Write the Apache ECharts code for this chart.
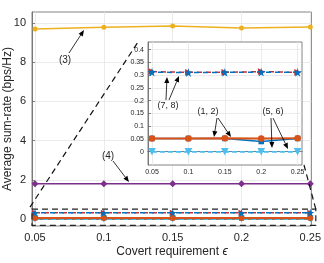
<!DOCTYPE html>
<html><head><meta charset="utf-8">
<script src="https://cdn.jsdelivr.net/npm/echarts@6/dist/echarts.min.js"></script>
<style>html,body{margin:0;padding:0;background:#fff}#c{width:324px;height:263px}</style>
</head><body><div id="c"></div>
<script>
// ---- data ----
const eps = [0.05, 0.1, 0.15, 0.2, 0.25];
const s1 = [0.052, 0.052, 0.053, 0.052, 0.053];   // (1) orange
const s2 = [0.052, 0.052, 0.052, 0.040, 0.052];   // (2) blue
const s3 = [9.69, 9.78, 9.85, 9.74, 9.80];        // (3) yellow
const s4 = [1.79, 1.79, 1.80, 1.79, 1.79];        // (4) purple
const s5 = [0, 0, 0, 0, 0];                       // (5) cyan dashed
const s6 = [0, 0, 0, 0, 0];                       // (6)
const s7 = [0.314, 0.311, 0.311, 0.314, 0.311];   // (7) red dashed
const s8 = [0.312, 0.310, 0.311, 0.312, 0.311];   // (8) blue dashed star
const xTicks = [0.05, 0.1, 0.15, 0.2, 0.25];
const mainYTicks = [0, 2, 4, 6, 8, 10];
const insetYTicks = [0, 0.05, 0.1, 0.15, 0.2, 0.25, 0.3, 0.35, 0.4];

const FONT = '"Liberation Sans", Arial, sans-serif';
const STAR = 'path://M50,0 L61,35 L98,35 L68,57 L79,91 L50,70 L21,91 L32,57 L2,35 L39,35 Z';
const pairs = a => eps.map((x, i) => [x, a[i]]);

function mk(g, data, color, opts) {
  return Object.assign({
    type: 'line', xAxisIndex: g, yAxisIndex: g, data: pairs(data),
    symbol: 'circle', symbolSize: 5, showSymbol: true, animation: false,
    itemStyle: { color: color }, lineStyle: { color: color, width: 1.5 },
    z: g ? 8 : 3
  }, opts || {});
}
function seriesFor(g, sz) {
  const k = sz;
  return [
    mk(g, s3, '#EDB120', { symbolSize: 5 * k }),
    mk(g, s4, '#7E2F8E', { symbol: 'diamond', symbolSize: 7 * k }),
    mk(g, s5, '#4DBEEE', { symbol: 'triangle', symbolRotate: 180, symbolSize: 7 * k, lineStyle: { color: '#4DBEEE', width: 1.5, type: [5, 3] } }),
    mk(g, s6, '#4DBEEE', { symbol: 'none', lineStyle: { color: '#4DBEEE', width: 1.5, type: [5, 3] } }),
    mk(g, s2, '#0072BD', { symbol: 'rect', symbolSize: 5 * k }),
    mk(g, s1, '#D95319', { symbolSize: 6 * k, lineStyle: { color: '#D95319', width: 2 } }),
    mk(g, s7, '#C0303A', { symbol: 'triangle', symbolRotate: -90, symbolSize: 6 * k, lineStyle: { color: '#C0303A', width: 1.5, type: [5, 4] } }),
    mk(g, s8, '#0072BD', { symbol: STAR, symbolSize: 8 * k, lineStyle: { color: '#0072BD', width: 1.5, type: [5, 4], dashOffset: 3 } })
  ];
}

const chart = echarts.init(document.getElementById('c'), null, { renderer: 'canvas' });
const axisCommon = (fs, color) => ({
  axisLine: { show: true, lineStyle: { color: '#666', width: 0.8 } },
  axisTick: { show: true, inside: true, length: 3, lineStyle: { color: '#666', width: 0.8 } },
  axisLabel: { fontFamily: FONT, fontSize: fs, color: '#262626' },
  splitLine: { show: true, lineStyle: { color: '#e6e6e6', width: 0.8 } }
});
function xAx(g, min, max, fs, margin) {
  const a = axisCommon(fs);
  a.axisTick.customValues = xTicks;
  a.axisLabel.customValues = xTicks;
  a.axisLabel.margin = margin;
  a.axisLabel.formatter = v => String(+v.toFixed(2));
  return Object.assign({ type: 'value', gridIndex: g, min: min, max: max, z: g ? 6 : 1 }, a);
}
function yAx(g, min, max, fs, ticks, margin) {
  const a = axisCommon(fs);
  a.axisTick.customValues = ticks;
  a.axisLabel.customValues = ticks;
  a.axisLabel.margin = margin;
  a.axisLabel.formatter = v => String(+v.toFixed(2));
  return Object.assign({ type: 'value', gridIndex: g, min: min, max: max, z: g ? 6 : 1 }, a);
}

chart.setOption({
  animation: false,
  grid: [
    { left: 32, top: 12, width: 281, height: 214, show: true, borderColor: '#666', borderWidth: 0.8, backgroundColor: '#fff', z: 0 },
    { left: 148, top: 42, width: 154, height: 123, show: true, borderColor: '#666', borderWidth: 0.8, backgroundColor: '#fff', z: 5 }
  ],
  xAxis: [xAx(0, 0.0478, 0.2508, 11, 6), xAx(1, 0.0445, 0.256, 7, 4)],
  yAxis: [yAx(0, -0.36, 10.56, 11, mainYTicks, 6), yAx(1, -0.052, 0.43, 7, insetYTicks, 4)],
  series: seriesFor(0, 1).concat(seriesFor(1, 1.1))
});

// ---- annotations ----
const P = (g, x, y) => chart.convertToPixel({ gridIndex: g }, [x, y]);
const stroke = { stroke: '#000', lineWidth: 0.8 };
function arrow(x1, y1, x2, y2) {
  const dx = x2 - x1, dy = y2 - y1, L = Math.hypot(dx, dy), ux = dx / L, uy = dy / L;
  const hl = 6, hw = 2.5;
  const bx = x2 - ux * hl, by = y2 - uy * hl;
  return [
    { type: 'line', shape: { x1, y1, x2: bx, y2: by }, style: stroke, z: 20 },
    { type: 'polygon', shape: { points: [[x2, y2], [bx - uy * hw, by + ux * hw], [bx + uy * hw, by - ux * hw]] }, style: { fill: '#000' }, z: 20 }
  ];
}
function label(t, x, y, fs) {
  return { type: 'text', x, y, style: { text: t, font: fs + 'px ' + FONT, fill: '#262626', align: 'center', verticalAlign: 'middle' }, z: 20 };
}
const tl = P(0, 0.0478, 0.5), br = P(0, 0.254, -0.33);
const rectEl = { type: 'rect', shape: { x: tl[0], y: tl[1], width: br[0] - tl[0], height: br[1] - tl[1] }, style: { fill: null, stroke: '#222', lineWidth: 1.2, lineDash: [6, 4] }, z: 15 };
const dash = { stroke: '#111', lineWidth: 1.2, lineDash: [6, 4] };
const insTL = P(1, 0.0445, 0.43), insBR = P(1, 0.256, -0.052);
const els = [
  rectEl,
  { type: 'line', shape: { x1: tl[0] - 2, y1: tl[1] - 2, x2: insTL[0] - 10, y2: insTL[1] }, style: dash, z: 15 },
  { type: 'line', shape: { x1: br[0], y1: tl[1], x2: insBR[0] + 2, y2: insBR[1] }, style: dash, z: 15 },
  label('(3)', 65, 60, 10), ...arrow(69, 53, 84, 30),
  label('(4)', 108, 156, 10), ...arrow(113, 161, 129, 182),
  label('(7, 8)', 168, 106, 9), ...arrow(166, 100, 167, 77), ...arrow(169, 100, 179, 76),
  label('(1, 2)', 208, 112, 9), ...arrow(217, 118, 214, 137), ...arrow(218, 118, 231, 137),
  label('(5, 6)', 273, 112, 9), ...arrow(271, 118, 272, 148), ...arrow(273, 118, 288, 149),
  { type: 'text', x: 8, y: 119, rotation: Math.PI / 2, style: { text: 'Average sum-rate (bps/Hz)', font: '12px ' + FONT, fill: '#262626', align: 'center', verticalAlign: 'middle' }, z: 20 },
  { type: 'text', x: 172, y: 252, style: { text: '{n|Covert requirement }{e|ϵ}', align: 'center', verticalAlign: 'middle', rich: { n: { fontFamily: FONT, fontSize: 12, fill: '#262626' }, e: { fontFamily: FONT, fontSize: 12, fontStyle: 'italic', fill: '#262626' } } }, z: 20 }
];
chart.setOption({ graphic: els });
</script></body></html>
